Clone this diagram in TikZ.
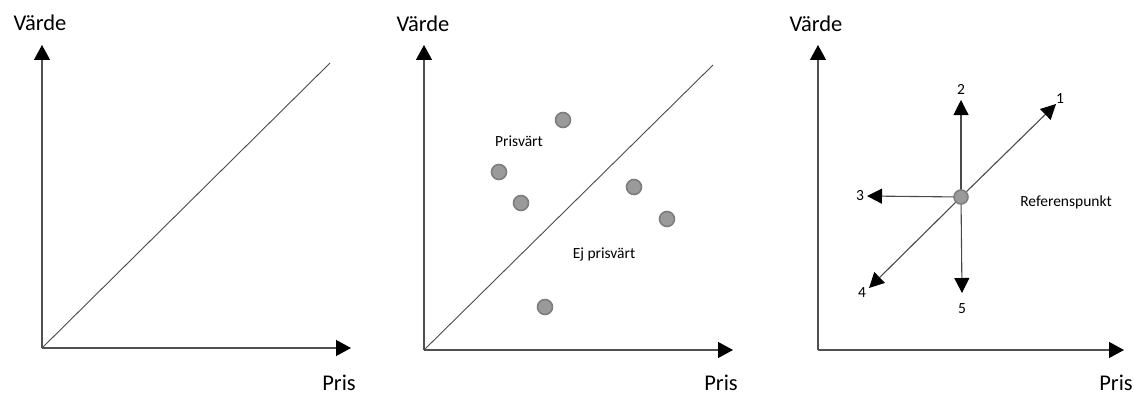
\documentclass[tikz,border=0pt]{standalone}
\usepackage{fontspec}
\setmainfont{Carlito}
\usetikzlibrary{arrows.meta}
\definecolor{axisc}{HTML}{505050}
\definecolor{linec}{HTML}{4A4A4A}
\definecolor{dotfill}{HTML}{9A9A9A}
\definecolor{dotdraw}{HTML}{7E7E7E}
\tikzset{
  axis/.style={draw=axisc, line width=1.3pt, -{Triangle[length=15pt,width=16pt,color=black]}},
  diag/.style={draw=linec, line width=0.9pt},
  dirarrow/.style={draw=linec, line width=1.1pt, -{Triangle[length=15pt,width=15pt,color=black]}},
  dot/.style={circle, fill=dotfill, draw=dotdraw, line width=1.6pt, minimum size=15pt, inner sep=0pt},
  big/.style={font=\fontsize{22.5}{26}\selectfont, anchor=base, inner sep=0pt, text=black},
  small/.style={font=\fontsize{15.5}{18}\selectfont, anchor=base, inner sep=0pt, text=black}
}
\begin{document}
\begin{tikzpicture}[x=1pt,y=-1pt]
\useasboundingbox (0,0) rectangle (1134,396);
% ---------- Panel 1 ----------
\coordinate (o1) at (42,348);
\coordinate (y1) at (42,45);
\coordinate (x1) at (351,348);
\coordinate (d1) at (330,63);
\draw[axis] (o1) -- (y1);
\draw[axis] (o1) -- (x1);
\draw[diag] (o1) -- (d1);
\node[big] (v1) at (40,31) {Värde};
\node[big] (p1) at (339,390) {Pris};
% ---------- Panel 2 ----------
\coordinate (o2) at (424,350);
\coordinate (y2) at (424,45);
\coordinate (x2) at (733,350);
\coordinate (d2) at (713,65);
\draw[axis] (o2) -- (y2);
\draw[axis] (o2) -- (x2);
\draw[diag] (o2) -- (d2);
\node[big] (v2) at (423,32) {Värde};
\node[big] (p2) at (721,390) {Pris};
\node[dot] (a) at (563,120) {};
\node[dot] (b) at (499,172) {};
\node[dot] (c) at (521,203) {};
\node[dot] (d) at (634,187) {};
\node[dot] (e) at (667,219) {};
\node[dot] (f) at (545,307) {};
\node[small] (pv) at (519,146) {Prisvärt};
\node[small] (ep) at (604,258) {Ej prisvärt};
% ---------- Panel 3 ----------
\coordinate (o3) at (818,350);
\coordinate (y3) at (818,45);
\coordinate (x3) at (1124,350);
\draw[axis] (o3) -- (y3);
\draw[axis] (o3) -- (x3);
\node[big] (v3) at (816,32) {Värde};
\node[big] (p3) at (1116,390) {Pris};
\coordinate (t1) at (1056,104);
\coordinate (t2) at (961,100);
\coordinate (t3) at (867,196);
\coordinate (t4) at (869,288);
\coordinate (t5) at (962,293);
\coordinate (ctr) at (961,197);
\draw[dirarrow] (ctr) -- (t1);
\draw[dirarrow] (ctr) -- (t2);
\draw[dirarrow] (ctr) -- (t3);
\draw[dirarrow] (ctr) -- (t4);
\draw[dirarrow] (ctr) -- (t5);
\node[dot, minimum size=14pt] (ref) at (ctr) {};
\node[small] (l1) at (1060,103) {1};
\node[small] (l2) at (961,94) {2};
\node[small] (l3) at (860,200) {3};
\node[small] (l4) at (862,297) {4};
\node[small] (l5) at (962,313) {5};
\node[small] (rp) at (1066,206) {Referenspunkt};
\end{tikzpicture}
\end{document}
